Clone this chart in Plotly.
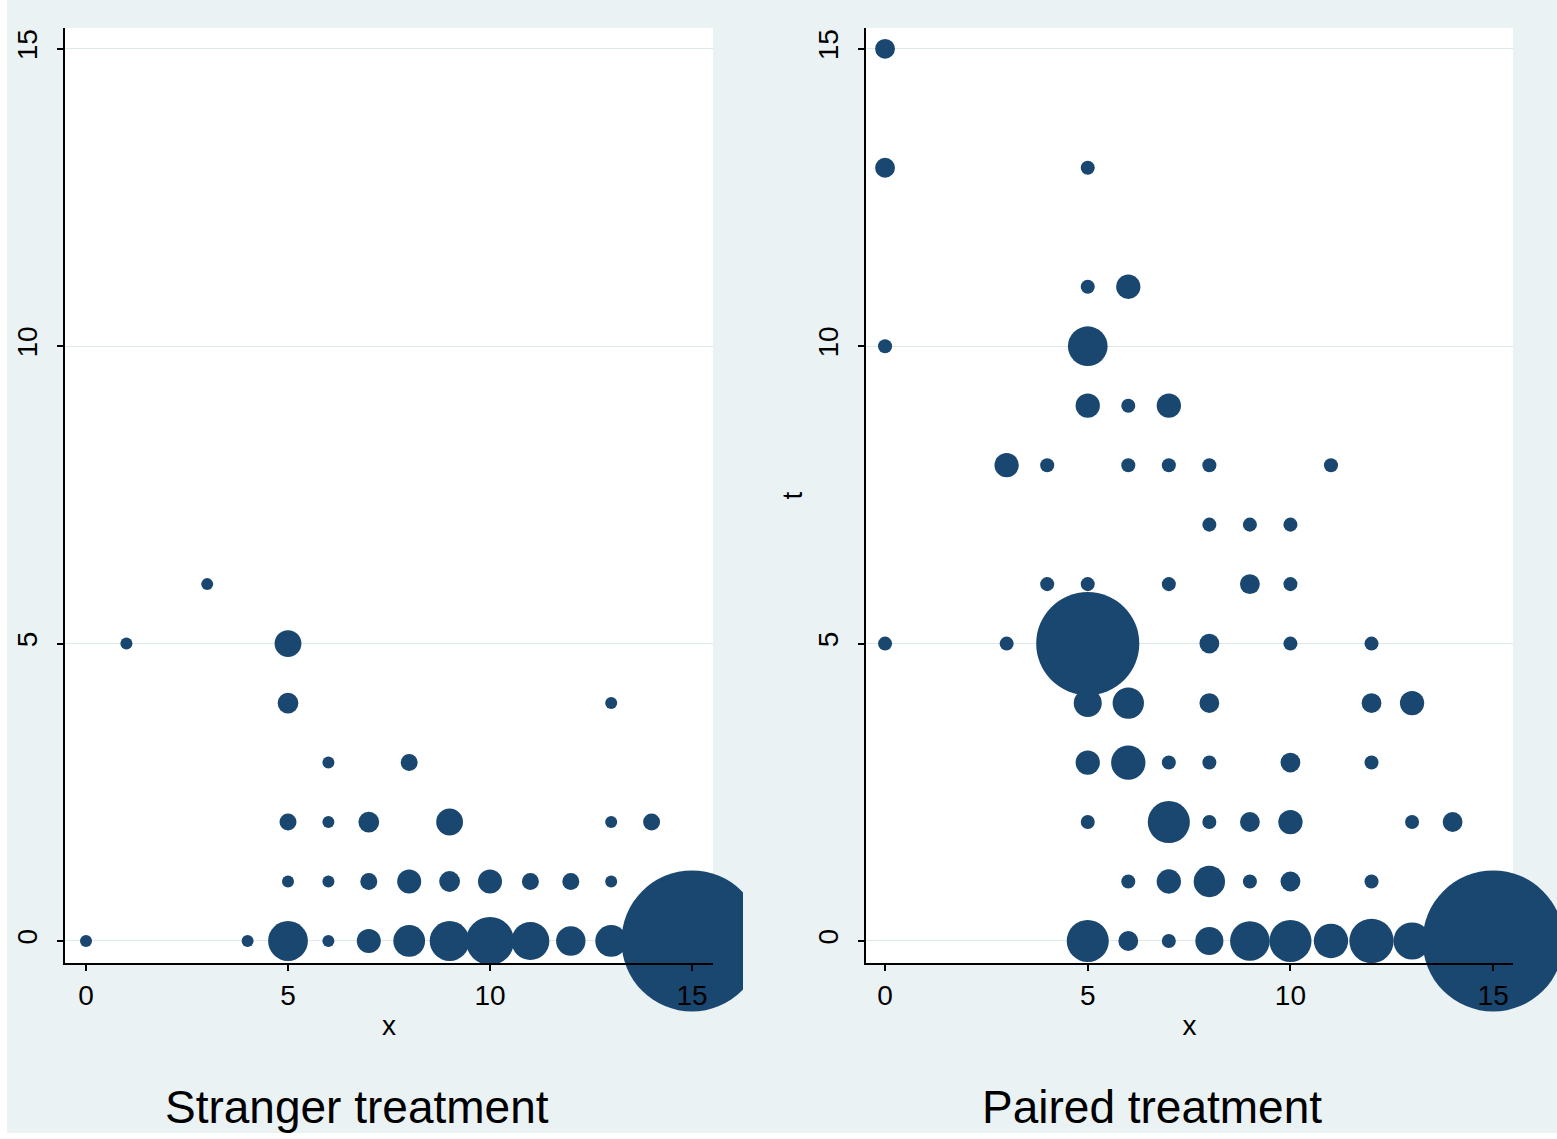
import numpy as np
import plotly.graph_objects as go

# ---- Stranger treatment: (x, t, frequency) ----
stranger_x = [0, 4, 5, 6, 7, 8, 9, 10, 11, 12, 13, 15,
              5, 6, 7, 8, 9, 10, 11, 12, 13,
              5, 6, 7, 9, 13, 14,
              6, 8,
              5, 13,
              1, 5,
              3]
stranger_t = [0, 0, 0, 0, 0, 0, 0, 0, 0, 0, 0, 0,
              1, 1, 1, 1, 1, 1, 1, 1, 1,
              2, 2, 2, 2, 2, 2,
              3, 3,
              4, 4,
              5, 5,
              6]
stranger_n = [1, 1, 11, 1, 4, 7, 11, 16, 10, 6, 7, 138,
              1, 1, 2, 4, 3, 4, 2, 2, 1,
              2, 1, 3, 5, 1, 2,
              1, 2,
              3, 1,
              1, 5,
              1]

# ---- Paired treatment: (x, t, frequency) ----
paired_x = [0,
            0, 5,
            5, 6,
            0, 5,
            5, 6, 7,
            3, 4, 6, 7, 8, 11,
            8, 9, 10,
            4, 5, 7, 9, 10,
            0, 3, 5, 8, 10, 12,
            5, 6, 8, 12, 13,
            5, 6, 7, 8, 10, 12,
            5, 7, 8, 9, 10, 13, 14,
            6, 7, 8, 9, 10, 12,
            5, 6, 7, 8, 9, 10, 11, 12, 13, 15]
paired_t = [15,
            13, 13,
            11, 11,
            10, 10,
            9, 9, 9,
            8, 8, 8, 8, 8, 8,
            7, 7, 7,
            6, 6, 6, 6, 6,
            5, 5, 5, 5, 5, 5,
            4, 4, 4, 4, 4,
            3, 3, 3, 3, 3, 3,
            2, 2, 2, 2, 2, 2, 2,
            1, 1, 1, 1, 1, 1,
            0, 0, 0, 0, 0, 0, 0, 0, 0, 0]
paired_n = [2,
            2, 1,
            1, 3,
            1, 8,
            3, 1, 3,
            3, 1, 1, 1, 1, 1,
            1, 1, 1,
            1, 1, 1, 2, 1,
            1, 1, 54, 2, 1, 1,
            4, 5, 2, 2, 3,
            3, 6, 1, 1, 2, 1,
            1, 9, 1, 2, 3, 1, 2,
            1, 3, 5, 1, 2, 1,
            9, 2, 1, 4, 8, 9, 6, 10, 7, 101]

panel_titles = ["Stranger treatment", "Paired treatment"]
tick_vals = [0, 5, 10, 15]

NAVY = "rgb(26,71,111)"
BG = "rgb(234,242,243)"
GRID = "rgb(222,233,236)"
FONT = "Liberation Sans, Arial, sans-serif"
W, H = 1557, 1139
MAX_D = 141  # diameter (px) of the most frequent cell in each panel


def bubble_sizes(freq):
    f = np.asarray(freq, dtype=float)
    return MAX_D * np.sqrt(f / f.max())


fig = go.Figure()
fig.add_trace(go.Scatter(
    x=stranger_x, y=stranger_t, mode="markers", xaxis="x", yaxis="y",
    cliponaxis=False, showlegend=False,
    marker=dict(size=bubble_sizes(stranger_n), sizemode="diameter",
                color=NAVY, opacity=1, line=dict(width=0)),
))
fig.add_trace(go.Scatter(
    x=paired_x, y=paired_t, mode="markers", xaxis="x2", yaxis="y2",
    cliponaxis=False, showlegend=False,
    marker=dict(size=bubble_sizes(paired_n), sizemode="diameter",
                color=NAVY, opacity=1, line=dict(width=0)),
))

y_dom = [1 - 963 / H, 1 - 28 / H]
common_x = dict(
    tickvals=tick_vals, ticks="outside", ticklen=6, tickwidth=1.5,
    tickcolor="black", showline=True, linecolor="black", linewidth=2,
    showgrid=False, zeroline=False, ticklabelstandoff=0,
    tickfont=dict(family=FONT, size=28, color="black"),
    title=dict(text="x", font=dict(family=FONT, size=28, color="black"),
               standoff=6),
)
common_y = dict(
    tickvals=tick_vals, ticks="outside", ticklen=6, tickwidth=1.5,
    tickcolor="black", showline=True, linecolor="black", linewidth=2,
    showgrid=True, gridcolor=GRID, gridwidth=1.2, zeroline=False,
    tickangle=-90, ticklabelstandoff=9,
    tickfont=dict(family=FONT, size=28, color="black"),
    domain=y_dom, range=[-0.37, 15.35],
)

fig.update_layout(
    width=W, height=H,
    margin=dict(l=0, r=0, t=0, b=0),
    paper_bgcolor=BG, plot_bgcolor="white",
    font=dict(family=FONT, color="black"),
    xaxis=dict(domain=[65 / W, 713 / W], range=[-0.52, 15.52],
               anchor="y", **common_x),
    yaxis=dict(anchor="x", **common_y),
    xaxis2=dict(domain=[866 / W, 1513 / W], range=[-0.47, 15.49],
                anchor="y2", **common_x),
    yaxis2=dict(anchor="x2",
                title=dict(text="t", font=dict(family=FONT, size=28,
                                               color="black"), standoff=2),
                **common_y),
)

# panel captions beneath each graph
for xc, label in zip([357 / W, 1152 / W], panel_titles):
    fig.add_annotation(x=xc, y=1 - 1107 / H, xref="paper", yref="paper",
                       text=label, showarrow=False, xanchor="center",
                       yanchor="middle",
                       font=dict(family=FONT, size=46, color="black"))

# the left graph region ends before the right one starts
fig.add_shape(type="rect", xref="paper", yref="paper", layer="above",
              x0=743 / W, x1=800 / W, y0=1 - 1035 / H, y1=1 - 850 / H,
              fillcolor=BG, line=dict(width=0))
# thin white margins along the left and bottom edges
fig.add_shape(type="rect", xref="paper", yref="paper", layer="below",
              x0=0, x1=7 / W, y0=0, y1=1, fillcolor="white",
              line=dict(width=0))
fig.add_shape(type="rect", xref="paper", yref="paper", layer="below",
              x0=0, x1=1, y0=0, y1=6 / H, fillcolor="white",
              line=dict(width=0))

fig.write_html("out.html")
